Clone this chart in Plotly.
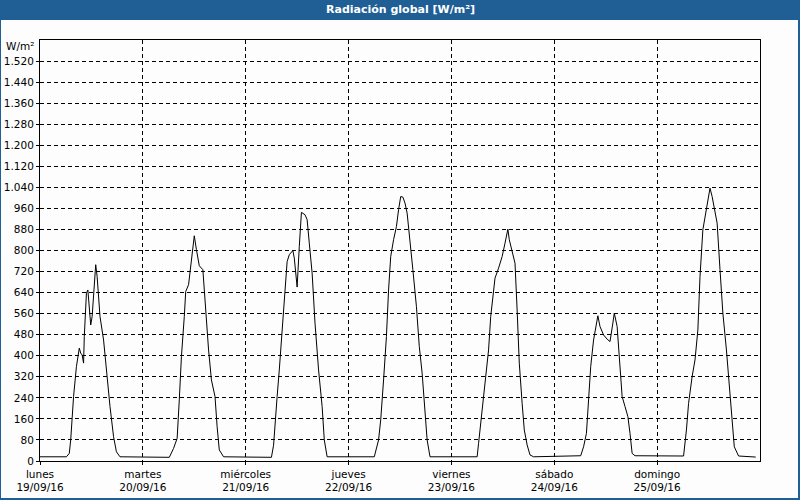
import plotly.graph_objects as go

# ---- data ----
times = [
    "2016-09-19 00:00", "2016-09-19 06:10", "2016-09-19 06:50", "2016-09-19 07:10", "2016-09-19 07:50",
    "2016-09-19 08:30", "2016-09-19 09:10", "2016-09-19 09:30", "2016-09-19 09:50", "2016-09-19 10:10",
    "2016-09-19 10:20", "2016-09-19 10:50", "2016-09-19 11:10", "2016-09-19 11:30", "2016-09-19 11:50",
    "2016-09-19 12:10", "2016-09-19 12:40", "2016-09-19 13:00", "2016-09-19 13:20", "2016-09-19 14:00",
    "2016-09-19 14:50", "2016-09-19 15:30", "2016-09-19 16:20", "2016-09-19 17:10", "2016-09-19 17:50",
    "2016-09-19 18:40",
    "2016-09-20 00:00", "2016-09-20 06:10", "2016-09-20 07:10", "2016-09-20 08:00", "2016-09-20 08:30",
    "2016-09-20 09:00", "2016-09-20 09:40", "2016-09-20 10:00", "2016-09-20 10:40", "2016-09-20 11:10",
    "2016-09-20 11:40", "2016-09-20 12:00", "2016-09-20 12:30", "2016-09-20 13:10", "2016-09-20 14:00",
    "2016-09-20 14:30", "2016-09-20 15:20", "2016-09-20 16:00", "2016-09-20 16:50", "2016-09-20 17:20",
    "2016-09-20 17:50", "2016-09-20 18:50",
    "2016-09-21 00:00", "2016-09-21 06:00", "2016-09-21 06:30", "2016-09-21 06:50", "2016-09-21 07:20",
    "2016-09-21 07:50", "2016-09-21 08:30", "2016-09-21 09:10", "2016-09-21 09:40", "2016-09-21 10:10",
    "2016-09-21 11:00", "2016-09-21 11:20", "2016-09-21 11:50", "2016-09-21 12:00", "2016-09-21 12:30",
    "2016-09-21 13:00", "2016-09-21 13:50", "2016-09-21 14:20", "2016-09-21 14:50", "2016-09-21 15:30",
    "2016-09-21 16:10", "2016-09-21 17:00", "2016-09-21 17:50", "2016-09-21 18:20", "2016-09-21 19:00",
    "2016-09-22 00:00", "2016-09-22 06:00", "2016-09-22 07:00", "2016-09-22 07:30", "2016-09-22 08:10",
    "2016-09-22 08:50", "2016-09-22 09:20", "2016-09-22 09:50", "2016-09-22 10:30", "2016-09-22 11:10",
    "2016-09-22 11:40", "2016-09-22 12:10", "2016-09-22 12:40", "2016-09-22 13:10", "2016-09-22 13:40",
    "2016-09-22 14:10", "2016-09-22 15:00", "2016-09-22 15:50", "2016-09-22 16:30", "2016-09-22 17:10",
    "2016-09-22 17:40", "2016-09-22 18:20", "2016-09-22 19:00",
    "2016-09-23 00:00", "2016-09-23 06:00", "2016-09-23 06:20", "2016-09-23 06:50", "2016-09-23 07:30",
    "2016-09-23 08:10", "2016-09-23 08:40", "2016-09-23 09:10", "2016-09-23 09:50", "2016-09-23 10:10",
    "2016-09-23 11:00", "2016-09-23 11:50", "2016-09-23 12:30", "2016-09-23 13:10", "2016-09-23 13:30",
    "2016-09-23 14:10", "2016-09-23 14:50", "2016-09-23 15:20", "2016-09-23 15:50", "2016-09-23 16:30",
    "2016-09-23 17:00", "2016-09-23 17:40", "2016-09-23 18:20", "2016-09-23 19:10",
    "2016-09-24 00:00", "2016-09-24 06:10", "2016-09-24 06:50", "2016-09-24 07:30", "2016-09-24 08:00",
    "2016-09-24 08:30", "2016-09-24 09:10", "2016-09-24 09:40", "2016-09-24 10:10", "2016-09-24 10:40",
    "2016-09-24 11:30", "2016-09-24 12:20", "2016-09-24 13:00", "2016-09-24 13:40", "2016-09-24 14:00",
    "2016-09-24 14:40", "2016-09-24 15:10", "2016-09-24 15:50", "2016-09-24 16:30", "2016-09-24 17:10",
    "2016-09-24 17:40", "2016-09-24 18:10", "2016-09-24 18:50",
    "2016-09-25 00:00", "2016-09-25 06:10", "2016-09-25 06:50", "2016-09-25 07:20", "2016-09-25 08:10",
    "2016-09-25 08:50", "2016-09-25 09:30", "2016-09-25 10:00", "2016-09-25 10:40", "2016-09-25 11:20",
    "2016-09-25 11:50", "2016-09-25 12:20", "2016-09-25 12:50", "2016-09-25 13:40", "2016-09-25 14:00",
    "2016-09-25 14:40", "2016-09-25 15:20", "2016-09-25 16:10", "2016-09-25 16:50", "2016-09-25 17:30",
    "2016-09-25 18:00", "2016-09-25 19:00", "2016-09-25 23:00",
]
radiation = [
    16, 16, 29, 80, 245, 359, 429, 410, 403, 372, 473, 638, 650, 587, 517, 549, 676, 746, 701, 549,
    460, 334, 207, 92, 35, 16,
    14, 14, 48, 86, 232, 397, 549, 644, 670, 739, 815, 856, 803, 742, 727, 612, 422, 308, 245, 130,
    42, 16,
    14, 14, 60, 143, 245, 346, 498, 663, 758, 784, 800, 771, 701, 661, 815, 945, 936, 917, 828, 714,
    524, 346, 207, 80, 16,
    16, 16, 80, 156, 308, 473, 650, 777, 841, 891, 955, 1005, 1003, 980, 942, 866, 727, 587, 435, 334,
    207, 80, 16,
    16, 16, 67, 143, 245, 346, 422, 549, 663, 695, 733, 777, 828, 881, 841, 790, 752, 574, 372, 219,
    118, 61, 23, 16,
    18, 20, 54, 105, 232, 359, 460, 511, 552, 511, 479, 463, 454, 524, 562, 511, 384, 245, 207, 169,
    105, 29, 20,
    19, 19, 118, 219, 321, 384, 498, 701, 879, 942, 993, 1037, 1005, 942, 904, 727, 562, 422, 283, 169,
    54, 19, 15,
]

day_ticks = ["2016-09-19", "2016-09-20", "2016-09-21", "2016-09-22",
             "2016-09-23", "2016-09-24", "2016-09-25"]
day_names = ["lunes", "martes", "miércoles", "jueves", "viernes", "sábado", "domingo"]
day_dates = ["19/09/16", "20/09/16", "21/09/16", "22/09/16", "23/09/16", "24/09/16", "25/09/16"]

y_tick_values = [0, 80, 160, 240, 320, 400, 480, 560, 640, 720, 800, 880, 960,
                 1040, 1120, 1200, 1280, 1360, 1440, 1520]
y_tick_labels = ["0", "80", "160", "240", "320", "400", "480", "560", "640", "720", "800", "880", "960",
                 "1.040", "1.120", "1.200", "1.280", "1.360", "1.440", "1.520"]

title_text = "Radiación global [W/m²]"
unit_text = "W/m²"

# ---- figure ----
W, H = 800, 500
L, R, T, B = 40, 40, 40, 39
pw, ph = W - L - R, H - T - B

def px_x(px):
    return (px - L) / pw

def px_y(py):
    return (H - B - py) / ph

BLUE = "#1F5F96"
FONT = "DejaVu Sans"

fig = go.Figure()
fig.add_trace(go.Scatter(
    x=times, y=radiation, mode="lines",
    line=dict(color="black", width=1),
    hoverinfo="skip", showlegend=False,
))

fig.update_layout(
    width=W, height=H,
    autosize=False,
    margin=dict(l=L, r=R, t=T, b=B, pad=0, autoexpand=False),
    paper_bgcolor="#FCFDFC",
    plot_bgcolor="#FCFDFC",
    font=dict(family=FONT, size=10.5, color="black"),
    showlegend=False,
    xaxis=dict(
        type="date",
        range=["2016-09-19 00:00", "2016-09-26 00:00"],
        tickvals=day_ticks,
        ticktext=[f"{n}<br>{d}" for n, d in zip(day_names, day_dates)],
        showgrid=True, gridcolor="black", gridwidth=1, griddash="4px,3px",
        showline=True, linecolor="black", linewidth=1, mirror=True,
        ticks="outside", ticklen=3, tickcolor="black",
        zeroline=False, fixedrange=True, automargin=False,
    ),
    yaxis=dict(
        range=[0, 1600],
        tickvals=y_tick_values,
        ticktext=y_tick_labels,
        showgrid=True, gridcolor="black", gridwidth=1, griddash="4px,3px",
        showline=True, linecolor="black", linewidth=1, mirror=True,
        ticks="outside", ticklen=3, tickcolor="black",
        zeroline=False, fixedrange=True, automargin=False,
    ),
    shapes=[
        # title bar
        dict(type="rect", xref="paper", yref="paper",
             x0=px_x(0), x1=px_x(W), y0=px_y(20), y1=px_y(0),
             fillcolor=BLUE, line=dict(width=0), layer="above"),
        # window border: left, right, bottom
        dict(type="rect", xref="paper", yref="paper",
             x0=px_x(0), x1=px_x(1), y0=px_y(H), y1=px_y(0),
             fillcolor=BLUE, line=dict(width=0), layer="above"),
        dict(type="rect", xref="paper", yref="paper",
             x0=px_x(798), x1=px_x(W), y0=px_y(H), y1=px_y(0),
             fillcolor=BLUE, line=dict(width=0), layer="above"),
        dict(type="rect", xref="paper", yref="paper",
             x0=px_x(0), x1=px_x(W), y0=px_y(H), y1=px_y(498),
             fillcolor=BLUE, line=dict(width=0), layer="above"),
    ],
    annotations=[
        dict(text=f"<b>{title_text}</b>", xref="paper", yref="paper",
             x=px_x(400), y=px_y(10), xanchor="center", yanchor="middle",
             showarrow=False, font=dict(family=FONT, size=11, color="white")),
        dict(text=unit_text, xref="paper", yref="paper",
             x=px_x(36), y=px_y(46), xanchor="right", yanchor="middle",
             showarrow=False, font=dict(family=FONT, size=10.5, color="black")),
    ],
)

fig.write_html(
    "out.html",
    config={"displayModeBar": False},
    post_script="document.body.style.margin='0px';document.body.style.overflow='hidden';",
)
